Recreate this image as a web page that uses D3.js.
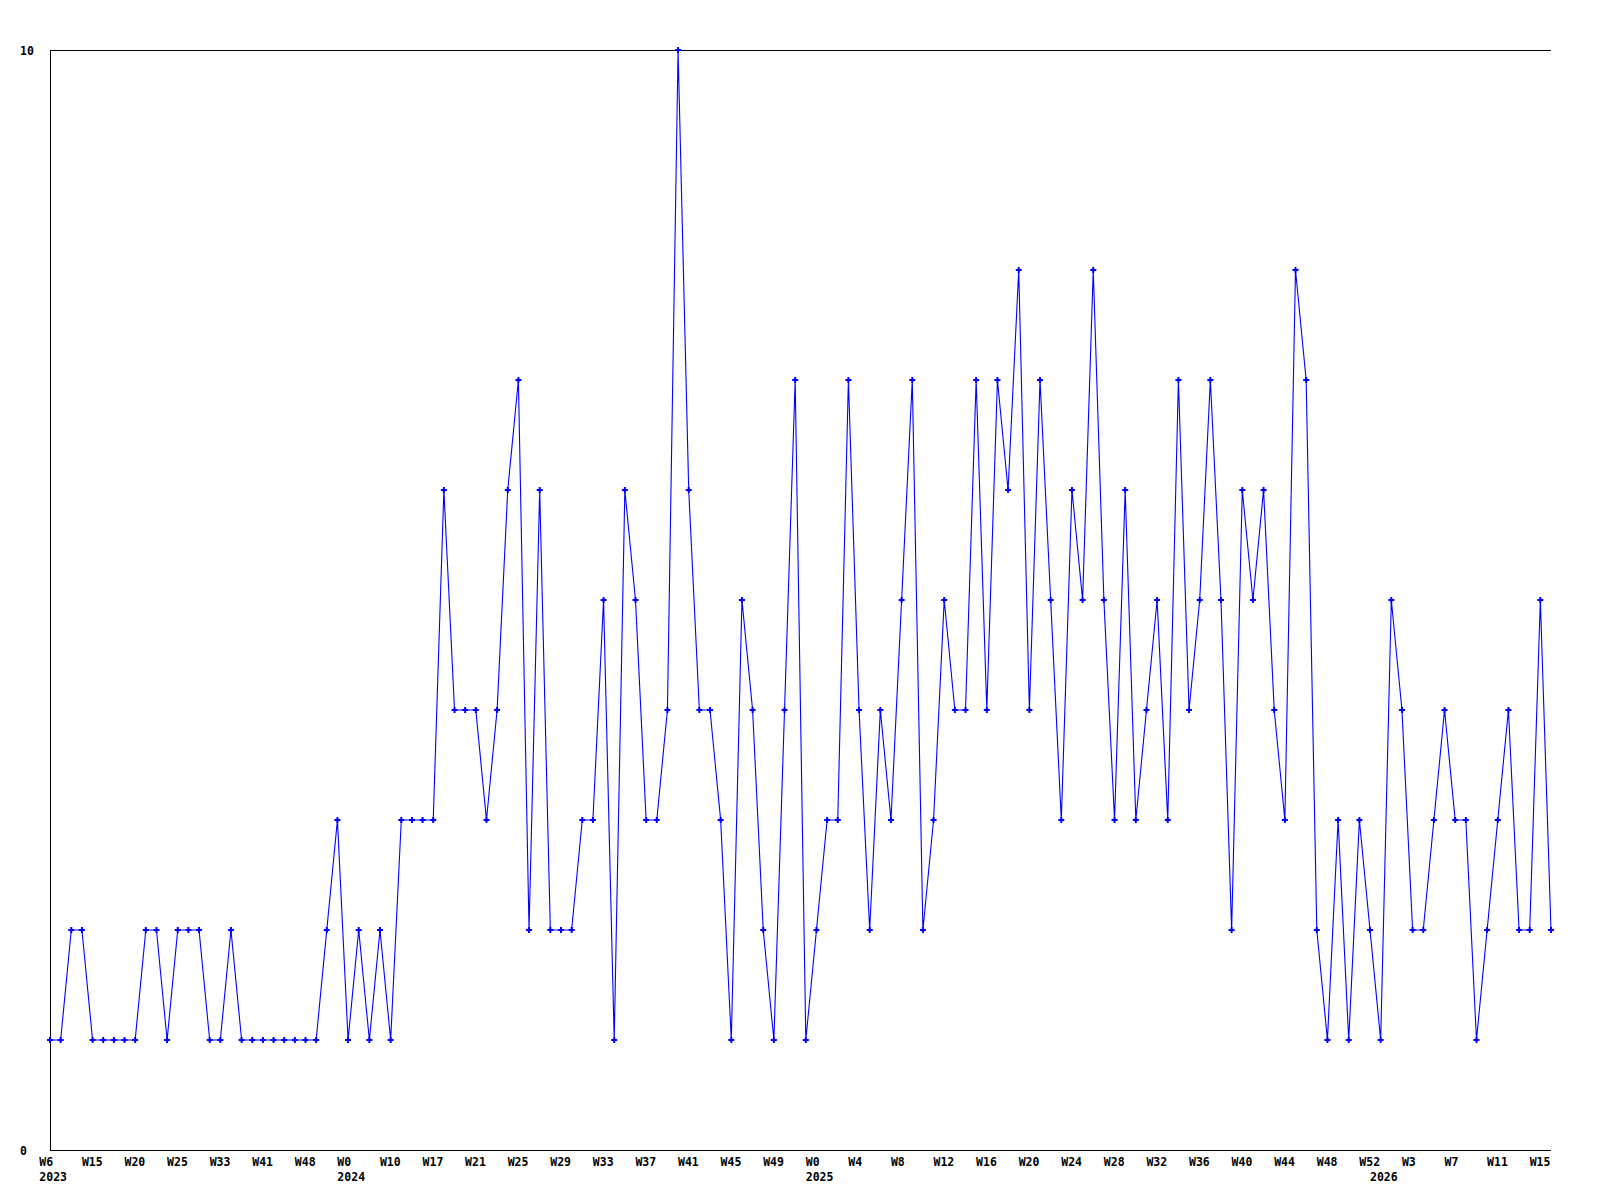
<!DOCTYPE html>
<html>
<head>
<meta charset="utf-8">
<script src="https://cdn.jsdelivr.net/npm/d3@7"></script>
<style>
  html, body { margin: 0; padding: 0; background: #fff; }
  svg text { font-family: "DejaVu Sans Mono", monospace; font-weight: bold; font-size: 11.5px; fill: #000; }
</style>
</head>
<body>
<svg id="chart" width="1600" height="1200"></svg>
<script>
// Series values, one per weekly entry (142 entries)
const values = [
  1,1,2,2,1,1,1,1,1,2, 2,1,2,2,2,1,1,2,1,1,
  1,1,1,1,1,1,2,3,1,2, 1,2,1,3,3,3,3,6,4,4,
  4,3,4,6,7,2,6,2,2,2, 3,3,5,1,6,5,3,3,4,10,
  6,4,4,3,1,5,4,2,1,4, 7,1,2,3,3,7,4,2,4,3,
  5,7,2,3,5,4,4,7,4,7, 6,8,4,7,5,3,6,5,8,5,
  3,6,3,4,5,3,7,4,5,7, 5,2,6,5,6,4,3,8,7,2,
  1,3,1,3,2,1,5,4,2,2, 3,4,3,3,1,2,3,4,2,2,
  5,2
];
// Week tick labels, shown on every 4th entry
const weekTicks = [
  "W6","W15","W20","W25","W33","W41","W48",
  "W0","W10","W17","W21","W25","W29","W33","W37","W41","W45","W49",
  "W0","W4","W8","W12","W16","W20","W24","W28","W32","W36","W40","W44","W48","W52",
  "W3","W7","W11","W15"
];
const tickStep = 4;
// Year labels and the entry at which each year starts
const yearNames = ["2023","2024","2025","2026"];
const yearStarts = [0, 28, 72, 125];
const yTicks = [0, 10];

(function () {
  const svg = d3.select("#chart");
  const pL = 50, pR = 1551, pT = 50, pB = 1150;

  const x = d3.scaleLinear().domain([0, values.length - 1]).range([pL, pR]);
  const y = d3.scaleLinear().domain([0, 10]).range([pB, pT]);

  // frame lines: left, top, bottom
  svg.append("line").attr("x1", pL + 0.5).attr("x2", pL + 0.5).attr("y1", pT).attr("y2", pB + 1)
    .attr("stroke", "#000").attr("stroke-width", 1);
  svg.append("line").attr("x1", pL).attr("x2", pR).attr("y1", pT + 0.5).attr("y2", pT + 0.5)
    .attr("stroke", "#000").attr("stroke-width", 1);
  svg.append("line").attr("x1", pL).attr("x2", pR).attr("y1", pB + 0.5).attr("y2", pB + 0.5)
    .attr("stroke", "#000").attr("stroke-width", 1);

  // y labels
  svg.selectAll("text.ylab").data(yTicks).enter().append("text")
    .attr("class", "ylab")
    .attr("x", 20)
    .attr("y", d => y(d) + 4.5)
    .text(d => d);

  // week labels
  svg.selectAll("text.wlab").data(weekTicks).enter().append("text")
    .attr("class", "wlab")
    .attr("x", (d, i) => x(i * tickStep) - 10.7)
    .attr("y", 1166)
    .text(d => d);

  // year labels
  svg.selectAll("text.yrlab").data(yearNames).enter().append("text")
    .attr("class", "yrlab")
    .attr("x", (d, i) => x(yearStarts[i]) - 10.7)
    .attr("y", 1181)
    .text(d => d);

  // line
  const line = d3.line().x((d, i) => x(i)).y(d => y(d));
  svg.append("path").datum(values)
    .attr("d", line)
    .attr("fill", "none")
    .attr("stroke", "#0000ff")
    .attr("stroke-width", 1.1);

  // markers
  const sym = d3.symbol().type(d3.symbolCross).size(20);
  svg.selectAll("path.mk").data(values).enter().append("path")
    .attr("class", "mk")
    .attr("transform", (d, i) => `translate(${x(i)},${y(d)})`)
    .attr("d", sym)
    .attr("fill", "#0000ff");
})();
</script>
</body>
</html>
